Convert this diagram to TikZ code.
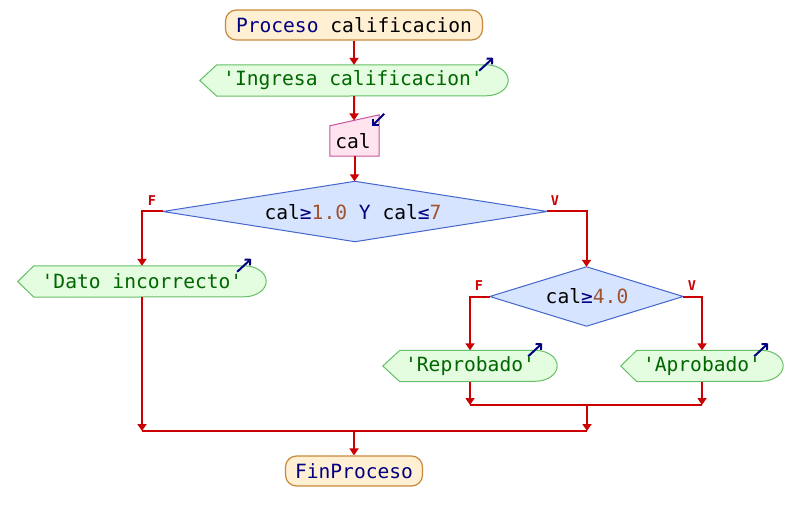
\documentclass[tikz,border=0pt]{standalone}
\usepackage{fontspec}
\newfontfamily\psf{DejaVu Sans Mono}
\usetikzlibrary{arrows.meta,calc}
\definecolor{kw}{HTML}{000080}
\definecolor{num}{HTML}{A0522D}
\definecolor{str}{HTML}{006600}
\definecolor{lred}{HTML}{CC0000}
\definecolor{tfill}{HTML}{FFF0D4}
\definecolor{tbord}{HTML}{C8883A}
\definecolor{ofill}{HTML}{E4FCE0}
\definecolor{obord}{HTML}{66C066}
\definecolor{ifill}{HTML}{FFE4F0}
\definecolor{ibord}{HTML}{C8559A}
\definecolor{dfill}{HTML}{D6E4FF}
\definecolor{dbord}{HTML}{4466CC}
\tikzset{
  body/.style={inner sep=0pt, minimum height=31pt},
  txt/.style={inner sep=0pt, font=\psf\fontsize{19.6}{22}\selectfont},
  term/.style={txt, draw=tbord, fill=tfill, line width=1.2pt, rounded corners=11pt, minimum height=30pt},
  conn/.style={draw=lred, line width=2pt, -{Triangle[width=9pt,length=7pt]}},
  wire/.style={draw=lred, line width=2pt},
  outsh/.style={draw=obord, fill=ofill, line width=1pt},
  insh/.style={draw=ibord, fill=ifill, line width=1pt},
  dsh/.style={draw=dbord, fill=dfill, line width=1pt},
  lab/.style={inner sep=0pt, text=lred, font=\psf\bfseries\fontsize{13.5}{15}\selectfont},
  icon/.style={draw=kw, line width=2pt, -{Straight Barb[length=4pt,width=8pt]}}
}
\newcommand{\outshape}[2]{%
  \draw[outsh] ([xshift=-#2pt]#1.west) -- (#1.north west) -- ([xshift=-22pt]#1.north east)
    arc[start angle=90,end angle=-90,x radius=22pt,y radius=15.5pt] -- (#1.south west) -- cycle;
  \draw[icon] ($(#1.north east)+(-29,6)$) -- ($(#1.north east)+(-15,-7)$);}
\begin{document}
\begin{tikzpicture}[x=1pt,y=-1pt]
\useasboundingbox[fill=white] (0,0) rectangle (802,521);

% start
\node[term, minimum width=257pt] (start) at (354,25) {\textcolor{kw}{Proceso} calificacion};

% output 1
\node[body, minimum width=291pt] (out1) at (362.5,80.5) {};
\outshape{out1}{17}
\node[txt, text=str] (out1t) at (353,80.5) {'Ingresa calificacion'};

% input
\node[body, minimum width=49pt, minimum height=30pt] (inp) at (354.5,141) {};
\draw[insh] (inp.south west) -- (inp.north west) -- ([yshift=11pt]inp.north east) -- (inp.south east) -- cycle;
\draw[icon] ($(inp.north east)+(5,-12)$) -- ($(inp.north east)+(-7,0)$);
\node[txt] (inpt) at (353,141) {cal};
\coordinate (inptop) at ($(inp.north west)!0.49!([yshift=11pt]inp.north east)$);

% decision 1
\node[body, minimum width=384pt, minimum height=60pt] (d1) at (355,211.5) {};
\draw[dsh] (d1.west) -- (d1.north) -- (d1.east) -- (d1.south) -- cycle;
\node[txt] (d1t) at (353,212) {cal\textcolor{kw}{≥}\textcolor{num}{1.0} \textcolor{kw}{Y} cal\textcolor{kw}{≤}\textcolor{num}{7}};

% dato incorrecto
\node[body, minimum width=232pt] (dato) at (150,281.5) {};
\outshape{dato}{16}
\node[txt, text=str] (datot) at (142,281.5) {'Dato incorrecto'};

% decision 2
\node[body, minimum width=193pt, minimum height=59pt] (d2) at (586.5,296.5) {};
\draw[dsh] (d2.west) -- (d2.north) -- (d2.east) -- (d2.south) -- cycle;
\node[txt] (d2t) at (587,296.5) {cal\textcolor{kw}{≥}\textcolor{num}{4.0}};

% reprobado / aprobado
\node[body, minimum width=157pt] (rep) at (478.5,366) {};
\outshape{rep}{17}
\node[txt, text=str] (rept) at (470,366) {'Reprobado'};
\node[body, minimum width=146pt] (apr) at (710,366) {};
\outshape{apr}{16}
\node[txt, text=str] (aprt) at (702,366) {'Aprobado'};

% end
\node[term, minimum width=137pt] (fin) at (354,471) {\textcolor{kw}{FinProceso}};

% labels
\node[lab] (f1) at (152,201) {F};
\node[lab] (v1) at (555,201) {V};
\node[lab] (f2) at (479,286) {F};
\node[lab] (v2) at (692,286) {V};

% junction coordinates
\coordinate (m2) at (587,405);
\coordinate (m1) at (354,431);

% connectors
\draw[conn] (start.south) -- (start.south |- out1.north);
\draw[conn] (start.south |- out1.south) -- (inptop);
\draw[conn] (inp.south) -- (inp.south |- d1.north);
\draw[conn] (d1.west) -| (datot.north |- dato.north);
\draw[conn] (d1.east) -| (d2.north);
\draw[conn] (d2.west) -| (rept.north |- rep.north);
\draw[conn] (d2.east) -| (aprt.north |- apr.north);
\draw[conn] (rept.south |- rep.south) -- (rept.south |- m2);
\draw[conn] (aprt.south |- apr.south) -- (aprt.south |- m2);
\draw[wire] (rept.south |- m2) -- (aprt.south |- m2);
\draw[conn] (m2) -- (m2 |- m1);
\draw[conn] (datot.south |- dato.south) -- (datot.south |- m1);
\draw[wire] (datot.south |- m1) -- (m2 |- m1);
\draw[conn] (m1) -- (m1 |- fin.north);
\end{tikzpicture}
\end{document}
